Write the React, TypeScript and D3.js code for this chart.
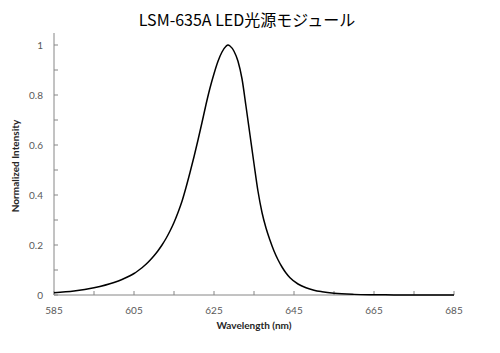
import React from "react";
import * as d3 from "d3";

const title = "LSM-635A LED光源モジュール";
const xLabel = "Wavelength (nm)";
const yLabel = "Normalized Intensity";

const wavelengths = [585, 590, 595, 600, 602, 604, 605, 606, 607, 608, 609, 610, 611, 612, 613, 614, 615, 616, 617, 618, 619, 620, 621, 622, 623, 624, 625, 626, 627, 628, 628.5, 629, 630, 631, 632, 633, 634, 635, 636, 637, 638, 639, 640, 641, 642, 643, 644, 646, 648, 650, 652, 655, 660, 665, 670, 675, 685];
const intensity = [0.009, 0.016, 0.029, 0.05, 0.062, 0.077, 0.086, 0.097, 0.109, 0.123, 0.139, 0.157, 0.177, 0.2, 0.226, 0.256, 0.29, 0.33, 0.375, 0.43, 0.49, 0.553, 0.62, 0.69, 0.762, 0.828, 0.885, 0.935, 0.972, 0.995, 1.0, 0.996, 0.975, 0.935, 0.865, 0.755, 0.64, 0.525, 0.415, 0.33, 0.268, 0.219, 0.176, 0.141, 0.112, 0.088, 0.069, 0.044, 0.029, 0.019, 0.013, 0.007, 0.0025, 0.001, 0.0004, 0.0002, 0.0];

const xMajorTicks = [585, 605, 625, 645, 665, 685];
const xMinorTicks = [595, 615, 635, 655, 675];
const yMajorTicks = [0, 0.2, 0.4, 0.6, 0.8, 1];
const yMinorTicks = [0.1, 0.3, 0.5, 0.7, 0.9];

export default function App() {
  const W = 500, H = 353;
  const x = d3.scaleLinear().domain([585, 685]).range([54, 454]);
  const y = d3.scaleLinear().domain([0, 1]).range([295, 45]);
  const pts: [number, number][] = wavelengths.map((w, i) => [w, intensity[i]]);
  const line = d3.line<[number, number]>()
    .x(d => x(d[0]))
    .y(d => y(d[1]))
    .curve(d3.curveMonotoneX);
  const axisColor = "#868686";
  const tickText = "#595959";
  const font = "Lato, 'Open Sans', sans-serif";
  return (
    <svg width={W} height={H} style={{ position: "absolute", left: 0, top: 0, background: "#fff" }}>
      <rect x={0} y={0} width={W} height={H} fill="#fff" />
      <text x={247} y={26} textAnchor="middle" fontFamily="'Noto Sans CJK JP', sans-serif" fontSize={16} fill="#000">{title}</text>
      <line x1={x(585)} x2={x(685)} y1={y(0)} y2={y(0)} stroke={axisColor} strokeWidth={1} />
      <line x1={x(585)} x2={x(585)} y1={y(0)} y2={33} stroke={axisColor} strokeWidth={1} />
      {[...xMajorTicks, ...xMinorTicks].map(t => (
        <line key={"xt" + t} x1={x(t)} x2={x(t)} y1={y(0)} y2={y(0) - 4} stroke={axisColor} strokeWidth={1} />
      ))}
      {[...yMajorTicks, ...yMinorTicks].map(t => (
        <line key={"yt" + t} x1={x(585)} x2={x(585) + 4} y1={y(t)} y2={y(t)} stroke={axisColor} strokeWidth={1} />
      ))}
      {xMajorTicks.map(t => (
        <text key={"xl" + t} x={x(t)} y={314} textAnchor="middle" fontFamily={font} fontSize={10} fill={tickText}>{t}</text>
      ))}
      {yMajorTicks.map(t => (
        <text key={"yl" + t} x={43} y={y(t) + 3.5} textAnchor="end" fontFamily={font} fontSize={10} fill={tickText}>{d3.format("~g")(t)}</text>
      ))}
      <text x={254} y={329} textAnchor="middle" fontFamily={font} fontWeight="bold" fontSize={10} fill="#262626">{xLabel}</text>
      <text transform={`translate(19,166) rotate(-90)`} textAnchor="middle" fontFamily={font} fontWeight="bold" fontSize={10} fill="#262626">{yLabel}</text>
      <path d={line(pts) || ""} fill="none" stroke="#000" strokeWidth={1.5} />
    </svg>
  );
}
